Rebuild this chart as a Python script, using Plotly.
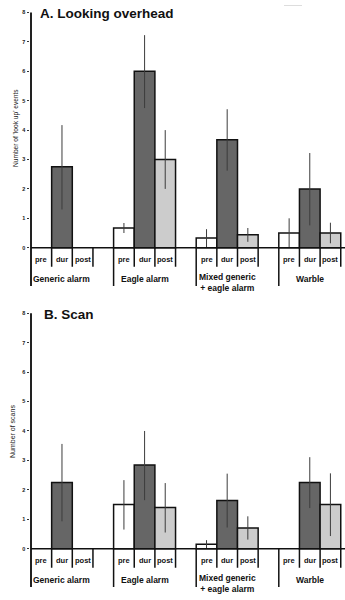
import plotly.graph_objects as go

# ---------------- data ----------------
groups = ["Generic alarm", "Eagle alarm", "Mixed generic<br>+ eagle alarm", "Warble"]
conditions = ["pre", "dur", "post"]
yticks = [0, 1, 2, 3, 4, 5, 6, 7, 8]

# Panel A: Looking overhead (mean, lower, upper) per condition, per group
a_pre_mean = [None, 0.67, 0.33, 0.50]
a_pre_lo = [None, 0.50, 0.00, 0.00]
a_pre_hi = [None, 0.84, 0.63, 1.00]
a_dur_mean = [2.75, 6.00, 3.67, 2.00]
a_dur_lo = [1.30, 4.75, 2.62, 0.76]
a_dur_hi = [4.17, 7.23, 4.71, 3.22]
a_post_mean = [None, 3.00, 0.44, 0.50]
a_post_lo = [None, 2.00, 0.20, 0.15]
a_post_hi = [None, 4.00, 0.67, 0.85]

# Panel B: Scan
b_pre_mean = [None, 1.50, 0.15, None]
b_pre_lo = [None, 0.65, 0.00, None]
b_pre_hi = [None, 2.33, 0.29, None]
b_dur_mean = [2.25, 2.84, 1.64, 2.25]
b_dur_lo = [0.93, 1.65, 0.72, 1.38]
b_dur_hi = [3.56, 4.00, 2.55, 3.11]
b_post_mean = [None, 1.40, 0.70, 1.50]
b_post_lo = [None, 0.55, 0.31, 0.43]
b_post_hi = [None, 2.23, 1.10, 2.56]

colors = {"pre": "#ffffff", "dur": "#666666", "post": "#cccccc"}

W, H = 345, 600
FONT = "Liberation Sans"

# ---------------- layout helpers ----------------
SLOT_PX = 20.65
X0_PX = 31.0          # pixel of x = -0.5
DOM_LEFT_PX = 29.5
x_left = -0.5 - (X0_PX - DOM_LEFT_PX) / SLOT_PX
x_right = -0.5 + (W - X0_PX) / SLOT_PX
YMIN, YMAX = -1.45, 8.15


def ydomain(zero_px, upp):
    bottom = zero_px - YMIN * upp
    top = zero_px - YMAX * upp
    return [1 - bottom / H, 1 - top / H]


fig = go.Figure()
shapes = []
annotations = []

panels = [
    ("x", "y", ydomain(247.7, 29.4),
     [(a_pre_mean, a_pre_lo, a_pre_hi), (a_dur_mean, a_dur_lo, a_dur_hi), (a_post_mean, a_post_lo, a_post_hi)],
     "A. Looking overhead", 38, 14, "Number of 'look up' events", 16, 128, 6.6),
    ("x2", "y2", ydomain(548.7, 29.43),
     [(b_pre_mean, b_pre_lo, b_pre_hi), (b_dur_mean, b_dur_lo, b_dur_hi), (b_post_mean, b_post_lo, b_post_hi)],
     "B. Scan", 42, 314, "Number of scans", 12, 432, 7.0),
]

for xr, yr, ydom, series, title, tx, ty, ytitle, ytx, yty, ytsize in panels:
    for ci, cond in enumerate(conditions):
        mean, lo, hi = series[ci]
        xs, ys, plus, minus = [], [], [], []
        for g in range(len(groups)):
            if mean[g] is None:
                continue
            xs.append(4 * g + ci)
            ys.append(mean[g])
            plus.append(hi[g] - mean[g])
            minus.append(mean[g] - lo[g])
        fig.add_trace(go.Bar(
            x=xs, y=ys, width=1.0, xaxis=xr, yaxis=yr,
            marker=dict(color=colors[cond], line=dict(color="#111111", width=1.5)),
            error_y=dict(type="data", symmetric=False, array=plus, arrayminus=minus,
                         color="#3c3c3c", thickness=1, width=0),
            showlegend=False, hoverinfo="skip",
        ))
    # axis lines and category frame
    shapes.append(dict(type="line", xref=xr, yref=yr, x0=-0.5, x1=-0.5, y0=8, y1=-1.3,
                       line=dict(color="#222222", width=2)))
    shapes.append(dict(type="line", xref=xr, yref=yr, x0=-0.5, x1=x_right, y0=0, y1=0,
                       line=dict(color="#111111", width=1.5)))
    for g in range(len(groups)):
        if g > 0:
            shapes.append(dict(type="line", xref=xr, yref=yr, x0=4 * g - 0.5, x1=4 * g - 0.5,
                               y0=0, y1=-1.3, line=dict(color="#111111", width=1.5)))
        for s in range(3):
            shapes.append(dict(type="line", xref=xr, yref=yr, x0=4 * g + s + 0.5, x1=4 * g + s + 0.5,
                               y0=0, y1=-0.65, line=dict(color="#111111", width=1.5)))
            annotations.append(dict(xref=xr, yref=yr, x=4 * g + s, y=-0.41, text=conditions[s],
                                    showarrow=False, font=dict(family=FONT, size=7.5, color="#111111", weight="bold")))
        annotations.append(dict(xref=xr, yref=yr, x=4 * g + 1, y=-1.19 if "<br>" in groups[g] else -1.07,
                                text=groups[g], showarrow=False,
                                font=dict(family=FONT, size=8.5, color="#111111", weight="bold")))
    annotations.append(dict(xref="paper", yref="paper", x=tx / W, y=1 - ty / H, xanchor="left", yanchor="middle",
                            text=title, showarrow=False,
                            font=dict(family=FONT, size=13.5, color="#111111", weight="bold")))
    annotations.append(dict(xref="paper", yref="paper", x=ytx / W, y=1 - yty / H, xanchor="center", yanchor="middle",
                            text=ytitle, textangle=-90, showarrow=False,
                            font=dict(family=FONT, size=ytsize, color="#222222")))

# faint scan artifact line at top right
shapes.append(dict(type="line", xref="paper", yref="paper", x0=284 / W, x1=302 / W, y0=1 - 5.5 / H, y1=1 - 5.5 / H,
                   line=dict(color="#dddddd", width=1)))

axis_common_x = dict(range=[x_left, x_right], domain=[DOM_LEFT_PX / W, 1], showgrid=False, zeroline=False,
                     showline=False, showticklabels=False, ticks="", fixedrange=True)
axis_common_y = dict(range=[YMIN, YMAX], showgrid=False, zeroline=False, showline=False,
                     tickmode="array", tickvals=yticks, ticktext=[str(v) for v in yticks],
                     ticks="outside", ticklen=2, tickwidth=1, tickcolor="#333333",
                     tickfont=dict(family=FONT, size=5.5, color="#222222", weight="bold"), fixedrange=True)

fig.update_layout(
    width=W, height=H, margin=dict(l=0, r=0, t=0, b=0),
    paper_bgcolor="white", plot_bgcolor="rgba(0,0,0,0)",
    barmode="overlay",
    xaxis=dict(**axis_common_x, anchor="y"),
    yaxis=dict(**axis_common_y, domain=panels[0][2], anchor="x"),
    xaxis2=dict(**axis_common_x, anchor="y2"),
    yaxis2=dict(**axis_common_y, domain=panels[1][2], anchor="x2"),
    shapes=shapes, annotations=annotations,
)

fig.write_html("out.html")
